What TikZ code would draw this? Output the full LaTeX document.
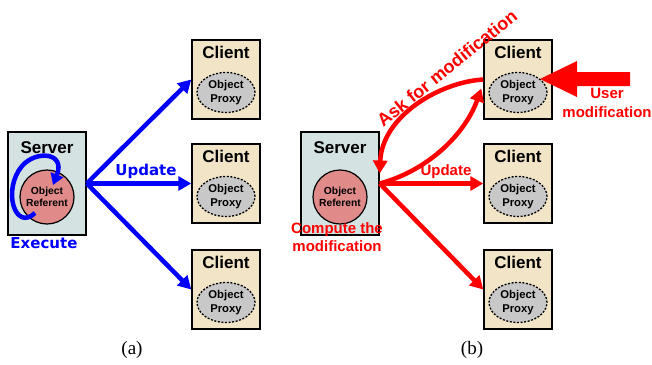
\documentclass[tikz,border=0pt]{standalone}
\usepackage{fontspec}
\setmainfont{Liberation Sans}
\newfontfamily\dejavu{DejaVu Sans}
\newfontfamily\capserif{Liberation Serif}
\usetikzlibrary{arrows.meta,shapes.geometric}
\definecolor{srvfill}{HTML}{D5E2E2}
\definecolor{clifill}{HTML}{F2E4C6}
\definecolor{reffill}{HTML}{E08A8A}
\definecolor{proxfill}{HTML}{C8C8C8}
\definecolor{myblue}{HTML}{0000FF}
\definecolor{myred}{HTML}{FF0000}
\begin{document}
\begin{tikzpicture}[x=1pt,y=-1pt,
  serverbox/.style={draw=black, line width=1.5pt, fill=srvfill, minimum width=78pt, minimum height=103pt, inner sep=0pt},
  clientbox/.style={draw=black, line width=1.5pt, fill=clifill, minimum width=68pt, minimum height=79pt, inner sep=0pt},
  referent/.style={circle, draw=black, line width=1.2pt, fill=reffill, minimum size=54pt, inner sep=0pt, align=center, font=\fontsize{10.3}{12.5}\selectfont\bfseries},
  proxy/.style={ellipse, draw=black, dash pattern=on 2pt off 1.6pt, line width=1.3pt, fill=proxfill, minimum width=58pt, minimum height=40pt, inner sep=0pt, align=center, font=\fontsize{11.3}{13.5}\selectfont\bfseries},
  boxtitle/.style={font=\fontsize{17}{20}\selectfont\bfseries, inner sep=0pt},
  bluelabel/.style={text=myblue, font=\dejavu\fontsize{15}{18}\selectfont\bfseries, inner sep=0pt},
  redlabel/.style={text=myred, font=\fontsize{15}{18.5}\selectfont\bfseries, inner sep=0pt, align=center},
  bluearrow/.style={draw=myblue, line width=4.5pt, -{Triangle[length=13pt,width=14pt]}},
  redarrow/.style={draw=myred, line width=4.5pt, -{Triangle[length=13pt,width=14pt]}},
  caption/.style={font=\capserif\fontsize{19}{21}\selectfont, inner sep=0pt}
]
\useasboundingbox (0,0) rectangle (652,364);

% ---------- panel (a) ----------
\node[serverbox] (sa) at (47,183.5) {};
\node[boxtitle] (sat) at (47,148) {Server};
\node[referent] (ra) at (47,197) {Object\\Referent};
\coordinate (exs) at ([xshift=-12pt,yshift=-16pt]ra.center);
\coordinate (exe) at ([xshift=6pt,yshift=12pt]ra.center);
\draw[draw=myblue, line width=4.5pt, -{Triangle[length=11pt,width=13pt]}]
  (exs) .. controls (15,232) and (2,190) .. (22,166) .. controls (36,150) and (66,152) .. (exe);
\node[bluelabel] (exl) at (44,243) {Execute};

\foreach \i/\y in {1/79.5,2/183.5,3/289.5}{
  \node[clientbox] (ca\i) at (226,\y) {};
  \node[boxtitle] (cat\i) at (226,\y-27.5) {Client};
  \node[proxy] (pa\i) at (226,\y+13) {Object\\Proxy};
}
\draw[bluearrow] (sa.east) -- (ca1.west);
\draw[bluearrow] (sa.east) -- (ca2.west);
\draw[bluearrow] (sa.east) -- (ca3.west);
\node[bluelabel] (upa) at (146,171) {Update};

% ---------- panel (b) ----------
\node[serverbox] (sb) at (340,183.5) {};
\node[boxtitle] (sbt) at (340,148) {Server};
\node[referent] (rb) at (340,197) {Object\\Referent};

\foreach \i/\y in {1/79.5,2/183.5,3/289.5}{
  \node[clientbox] (cb\i) at (518,\y) {};
  \node[boxtitle] (cbt\i) at (518,\y-27.5) {Client};
  \node[proxy] (pb\i) at (518,\y+13) {Object\\Proxy};
}
\draw[redarrow] (sb.east) -- (cb2.west);
\draw[redarrow] (sb.east) -- (cb3.west);
\draw[redarrow] (cb1.west) .. controls (440,82) and (382,116) .. ([yshift=10pt]sb.east);
\draw[redarrow] (sb.east) .. controls (430,170) and (466,132) .. ([xshift=-2pt,yshift=-9pt]cb1.west);
\node[redlabel] (upb) at (446,172) {Update};
\node[redlabel] (cmp) at (337,237) {Compute the\\modification};
\node[redlabel, rotate=39, font=\fontsize{18}{20}\selectfont\bfseries] (ask) at (447,68) {Ask for modification};

% big user-modification arrow
\coordinate (utail) at (630,79);
\coordinate (utip) at (540,79);
\fill[myred] (utail) ++(0,-7) -- (577,72) -- (577,61) -- (utip) -- (577,97) -- (577,86) -- (630,86) -- cycle;
\node[redlabel] (usr) at (607,103) {User\\modification};

% ---------- captions ----------
\node[caption] (capa) at (132,350) {(a)};
\node[caption] (capb) at (472,350) {(b)};
\end{tikzpicture}
\end{document}
